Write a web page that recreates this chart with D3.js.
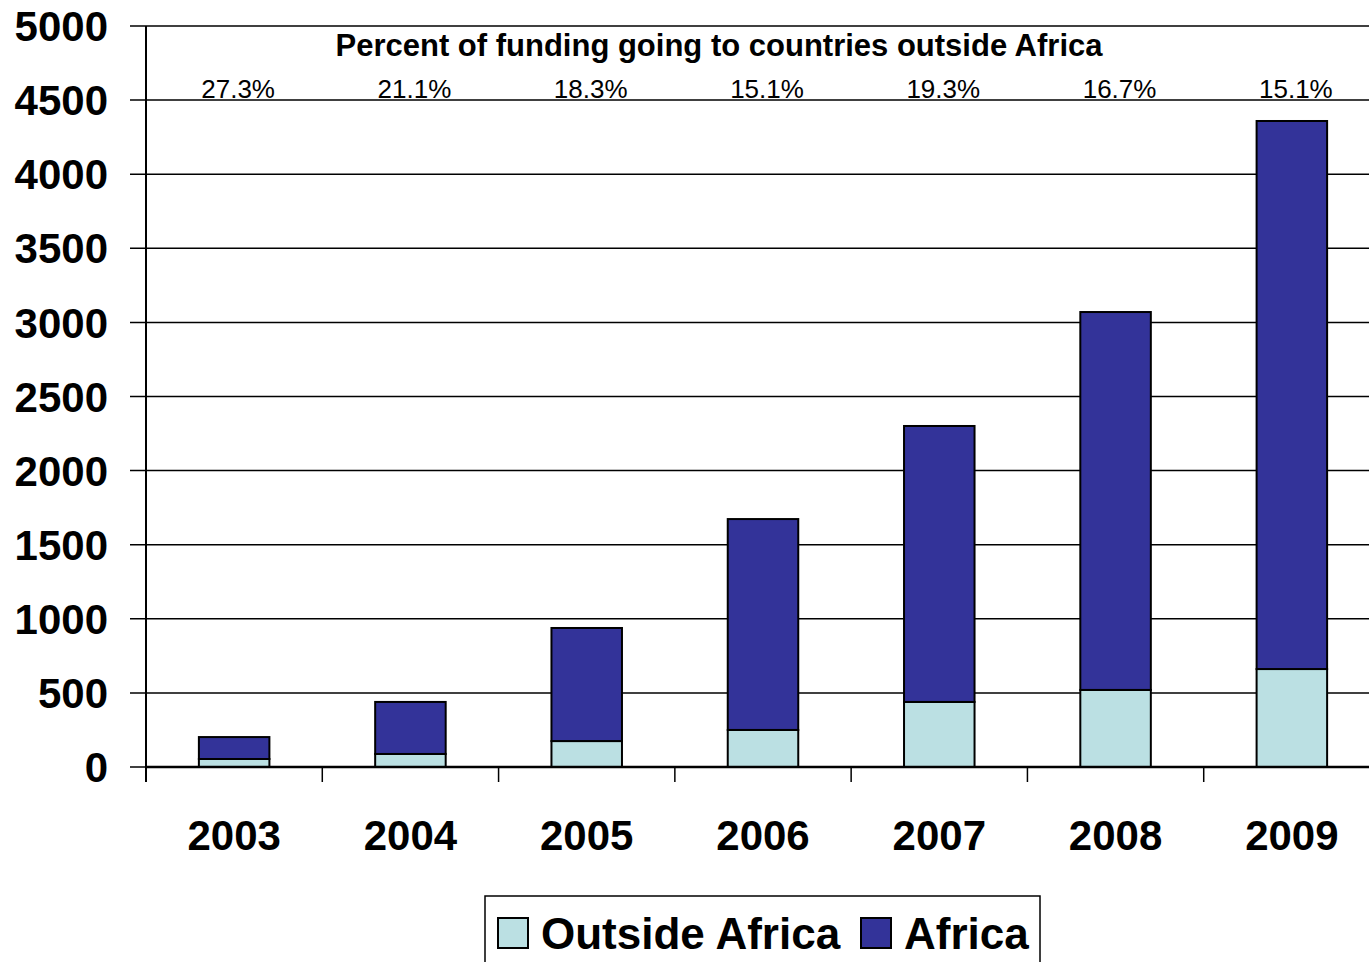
<!DOCTYPE html>
<html>
<head>
<meta charset="utf-8">
<script src="https://cdn.jsdelivr.net/npm/d3@7"></script>
<style>
  body { margin: 0; background: #fff; }
  svg { display: block; font-family: "Liberation Sans", Arial, sans-serif; }
</style>
</head>
<body>
<svg id="chart" width="1369" height="962"></svg>
<script>
// data
var years = ['2003', '2004', '2005', '2006', '2007', '2008', '2009'];
var outsideAfrica = [54, 88, 175, 250, 439, 520, 661];
var africa = [148, 351, 763, 1423, 1862, 2550, 3698];
var pctLabels = ['27.3%', '21.1%', '18.3%', '15.1%', '19.3%', '16.7%', '15.1%'];
var yTicks = [0, 500, 1000, 1500, 2000, 2500, 3000, 3500, 4000, 4500, 5000];

var colors = { outside: '#bbe0e3', africa: '#333399' };

var svg = d3.select('#chart');
var plotLeft = 146, plotTop = 26, plotBottom = 767, plotRight = 1380;

var x = d3.scaleBand().domain(years).range([plotLeft, plotRight]).paddingInner(0.6).paddingOuter(0.3);
var xBand = d3.scaleBand().domain(years).range([plotLeft, plotRight]);
var y = d3.scaleLinear().domain([0, 5000]).range([plotBottom, plotTop]);

//gridlines + y ticks
svg.append('g').selectAll('line')
  .data(yTicks)
  .enter().append('line')
  .attr('x1', plotLeft - 16).attr('x2', 1369)
  .attr('y1', d => y(d)).attr('y2', d => y(d))
  .attr('stroke', '#000').attr('stroke-width', 1.5);

svg.append('g').selectAll('text')
  .data(yTicks)
  .enter().append('text')
  .attr('x', 108).attr('y', d => y(d))
  .attr('dy', '0.36em')
  .attr('text-anchor', 'end')
  .attr('font-size', 42).attr('font-weight', 'bold')
  .text(d => d);

//stacked bars
var stackData = years.map((yr, i) => ({ year: yr, outside: outsideAfrica[i], africa: africa[i] }));
var series = d3.stack().keys(['outside', 'africa'])(stackData);

svg.append('g').selectAll('g')
  .data(series)
  .enter().append('g')
  .attr('fill', d => colors[d.key])
  .selectAll('rect')
  .data(d => d)
  .enter().append('rect')
  .attr('x', d => x(d.data.year))
  .attr('width', x.bandwidth())
  .attr('y', d => y(d[1]))
  .attr('height', d => y(d[0]) - y(d[1]))
  .attr('stroke', '#000').attr('stroke-width', 2);

//axes lines
svg.append('line')
  .attr('x1', plotLeft).attr('x2', plotLeft).attr('y1', plotTop).attr('y2', plotBottom + 15)
  .attr('stroke', '#000').attr('stroke-width', 2);
svg.append('line')
  .attr('x1', plotLeft).attr('x2', 1369).attr('y1', plotBottom).attr('y2', plotBottom)
  .attr('stroke', '#000').attr('stroke-width', 2.5);

//x ticks between categories
svg.append('g').selectAll('line')
  .data(years.slice(1))
  .enter().append('line')
  .attr('x1', d => xBand(d)).attr('x2', d => xBand(d))
  .attr('y1', plotBottom).attr('y2', plotBottom + 15)
  .attr('stroke', '#000').attr('stroke-width', 1.5);

svg.append('g').selectAll('text')
  .data(years)
  .enter().append('text')
  .attr('x', d => x(d) + x.bandwidth() / 2)
  .attr('y', 850)
  .attr('text-anchor', 'middle')
  .attr('font-size', 42).attr('font-weight', 'bold')
  .text(d => d);

//percent annotation
svg.append('text')
  .attr('x', 719).attr('y', 56)
  .attr('text-anchor', 'middle')
  .attr('font-size', 31).attr('font-weight', 'bold')
  .text('Percent of funding going to countries outside Africa');

svg.append('g').selectAll('text')
  .data(pctLabels)
  .enter().append('text')
  .attr('x', (d, i) => x(years[i]) + x.bandwidth() / 2 + 4)
  .attr('y', 98)
  .attr('text-anchor', 'middle')
  .attr('font-size', 26)
  .text(d => d);

//legend
var legend = svg.append('g');
legend.append('rect')
  .attr('x', 485).attr('y', 896).attr('width', 555).attr('height', 80)
  .attr('fill', '#fff').attr('stroke', '#000').attr('stroke-width', 1.5);

var legendItems = [
  { key: 'outside', label: 'Outside Africa', x: 498 },
  { key: 'africa', label: 'Africa', x: 861 }
];
legendItems.forEach(function(it) {
  legend.append('rect')
    .attr('x', it.x).attr('y', 918).attr('width', 30).attr('height', 30)
    .attr('fill', colors[it.key]).attr('stroke', '#000').attr('stroke-width', 2);
  legend.append('text')
    .attr('x', it.x + 43).attr('y', 949)
    .attr('font-size', 44).attr('font-weight', 'bold')
    .text(it.label);
});
</script>
</body>
</html>
